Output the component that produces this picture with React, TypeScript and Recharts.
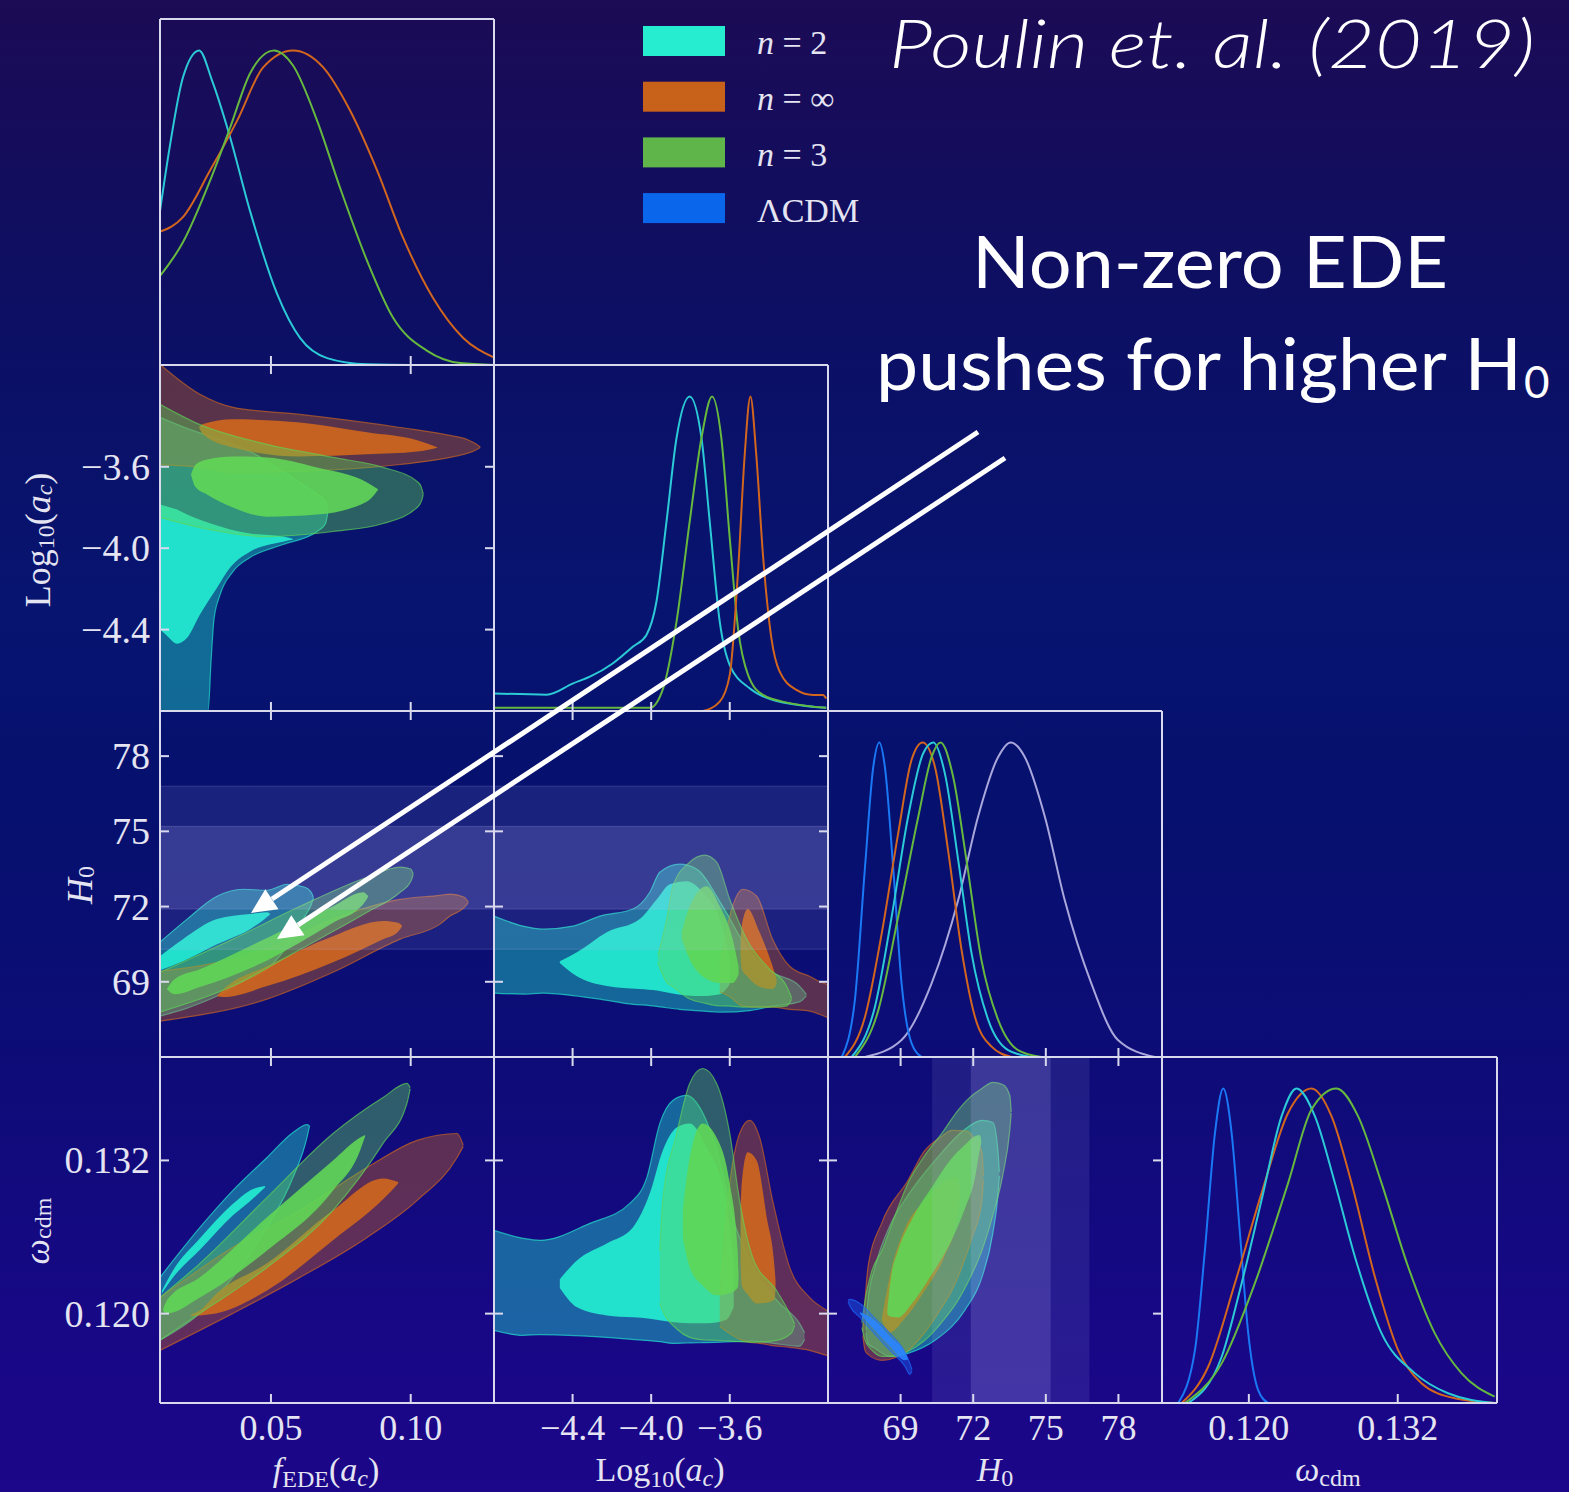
import React from 'react';
import { ComposedChart, Area, Line, XAxis, YAxis } from 'recharts';

type Pt = [number, number];
type Band = [number, number, number];

// ---------- axes ----------
const F_DOMAIN: [number, number] = [0.0103, 0.1298];
const LA_DOMAIN: [number, number] = [-4.8, -3.1];
const H0_DOMAIN: [number, number] = [66.0, 79.8];
const WC_X_DOMAIN: [number, number] = [0.113, 0.14];
const WC_Y_DOMAIN: [number, number] = [0.113, 0.1401];
const PDF_DOMAIN: [number, number] = [0, 1.1];

const F_TICKS = [0.05, 0.1];
const LA_TICKS = [-4.4, -4.0, -3.6];
const H0_TICKS = [69, 72, 75, 78];
const WC_TICKS = [0.12, 0.132];
const PDF_TICKS = [0.5];

// SH0ES local H0 measurement bands
const SH0ES_1SIGMA: Pt = [71.9, 75.2];
const SH0ES_2SIGMA: Pt = [70.3, 76.8];

// ---------- 1D marginals (normalised to peak = 1) ----------
const PDF_F_N2: Pt[] = [[0.0103, 0.49], [0.0139, 0.7], [0.0185, 0.914], [0.0243, 1.0], [0.0289, 0.905], [0.035, 0.736], [0.0425, 0.49], [0.0522, 0.226], [0.0604, 0.086], [0.0701, 0.022], [0.0844, 0.002], [0.1, 0], [0.1298, 0]];
const PDF_F_NINF: Pt[] = [[0.0103, 0.424], [0.0185, 0.47], [0.0282, 0.618], [0.0379, 0.777], [0.0472, 0.946], [0.0579, 1.0], [0.0687, 0.946], [0.0783, 0.809], [0.088, 0.618], [0.0973, 0.404], [0.108, 0.213], [0.1188, 0.086], [0.1295, 0.025]];
const PDF_F_N3: Pt[] = [[0.0103, 0.283], [0.0185, 0.39], [0.0282, 0.586], [0.0354, 0.755], [0.0425, 0.927], [0.0511, 1.0], [0.0579, 0.952], [0.0665, 0.777], [0.0747, 0.564], [0.0844, 0.331], [0.0937, 0.15], [0.1059, 0.045], [0.1177, 0.006], [0.1298, 0]];

const PDF_LA_N2: Pt[] = [[-4.8, 0.056], [-4.532, 0.052], [-4.397, 0.088], [-4.312, 0.109], [-4.194, 0.152], [-4.092, 0.205], [-4.024, 0.242], [-3.973, 0.348], [-3.922, 0.602], [-3.871, 0.868], [-3.804, 1.0], [-3.744, 0.868], [-3.702, 0.602], [-3.651, 0.284], [-3.6, 0.146], [-3.499, 0.072], [-3.38, 0.035], [-3.109, 0.01]];
const PDF_LA_N3: Pt[] = [[-4.8, 0.01], [-4.007, 0.01], [-3.939, 0.072], [-3.871, 0.284], [-3.804, 0.602], [-3.744, 0.868], [-3.69, 1.0], [-3.643, 0.868], [-3.6, 0.549], [-3.558, 0.263], [-3.507, 0.115], [-3.431, 0.051], [-3.295, 0.025], [-3.109, 0.01]];
const PDF_LA_NINF: Pt[] = [[-3.736, 0], [-3.651, 0.03], [-3.6, 0.115], [-3.558, 0.443], [-3.524, 0.814], [-3.495, 1.0], [-3.465, 0.814], [-3.431, 0.496], [-3.388, 0.231], [-3.346, 0.125], [-3.261, 0.067], [-3.177, 0.051], [-3.126, 0.051], [-3.109, 0.04]];

const PDF_H0_LCDM: Pt[] = [[66.57, 0], [67.11, 0.181], [67.53, 0.605], [67.87, 0.922], [68.12, 1.0], [68.35, 0.922], [68.69, 0.605], [69.04, 0.234], [69.45, 0.044], [69.87, 0]];
const PDF_H0_NINF: Pt[] = [[66.7, 0], [67.53, 0.128], [68.22, 0.393], [68.9, 0.711], [69.45, 0.944], [69.91, 1.0], [70.42, 0.922], [70.96, 0.658], [71.52, 0.34], [72.07, 0.128], [72.76, 0.033], [73.58, 0]];
const PDF_H0_N2: Pt[] = [[66.98, 0], [67.94, 0.16], [68.63, 0.446], [69.31, 0.764], [69.93, 0.965], [70.35, 1.0], [70.83, 0.901], [71.38, 0.626], [71.93, 0.33], [72.62, 0.118], [73.44, 0.022], [74.41, 0]];
const PDF_H0_N3: Pt[] = [[67.11, 0], [68.08, 0.149], [68.9, 0.446], [69.73, 0.764], [70.28, 0.954], [70.65, 1.0], [71.17, 0.891], [71.72, 0.626], [72.34, 0.308], [73.03, 0.118], [73.85, 0.022], [74.82, 0]];
const PDF_H0_SH0ES: Pt[] = [[67.53, 0], [69.04, 0.054], [70.28, 0.234], [71.38, 0.499], [72.2, 0.764], [73.03, 0.954], [73.55, 1.0], [74.13, 0.954], [74.96, 0.764], [75.78, 0.499], [76.88, 0.234], [77.98, 0.054], [79.5, 0]];

const PDF_WC_LCDM: Pt[] = [[0.11431, 0], [0.11566, 0.169], [0.11646, 0.487], [0.11727, 0.859], [0.11793, 1.0], [0.11861, 0.859], [0.11928, 0.54], [0.11995, 0.222], [0.12075, 0.041], [0.12156, 0]];
const PDF_WC_N2: Pt[] = [[0.11512, 0], [0.11781, 0.147], [0.11942, 0.381], [0.12103, 0.646], [0.12264, 0.912], [0.12384, 1.0], [0.12532, 0.912], [0.12693, 0.7], [0.12854, 0.466], [0.13069, 0.222], [0.13337, 0.095], [0.13605, 0.031], [0.13981, 0]];
const PDF_WC_NINF: Pt[] = [[0.11459, 0], [0.11673, 0.116], [0.11888, 0.381], [0.12103, 0.668], [0.12317, 0.923], [0.12505, 1.0], [0.12666, 0.912], [0.12827, 0.7], [0.13015, 0.402], [0.13202, 0.169], [0.13391, 0.063], [0.13659, 0.015], [0.13981, 0]];
const PDF_WC_N3: Pt[] = [[0.11485, 0], [0.11781, 0.126], [0.12049, 0.381], [0.12317, 0.7], [0.12505, 0.933], [0.12706, 1.0], [0.1288, 0.912], [0.13069, 0.7], [0.13283, 0.434], [0.13498, 0.222], [0.13713, 0.095], [0.13981, 0.02]];

// ---------- 2D credible regions: [x, lower, upper] ----------
// f_EDE vs log10(a_c)
const C_FLA_N2_OUT: Band[] = [[0.0103, -4.8, -3.357], [0.0275, -4.8, -3.446], [0.0286, -4.548, -3.45], [0.0296, -4.351, -3.456], [0.0318, -4.228, -3.466], [0.0364, -4.115, -3.49], [0.0425, -4.046, -3.525], [0.0543, -3.982, -3.623], [0.0665, -3.918, -3.736], [0.0695, -3.88, -3.77], [0.0704, -3.821, -3.819]];
const C_FLA_N2_IN: Band[] = [[0.0103, -4.4, -3.785], [0.0128, -4.43, -3.795], [0.0164, -4.469, -3.81], [0.02, -4.44, -3.835], [0.0246, -4.326, -3.86], [0.0307, -4.194, -3.889], [0.0354, -4.095, -3.908], [0.0425, -4.017, -3.928], [0.0543, -3.968, -3.943], [0.0579, -3.957, -3.955]];
const C_FLA_NINF_OUT: Band[] = [[0.0103, -3.589, -3.097], [0.0246, -3.603, -3.244], [0.0364, -3.628, -3.308], [0.0604, -3.623, -3.343], [0.0962, -3.589, -3.407], [0.1141, -3.554, -3.446], [0.1202, -3.534, -3.466], [0.123, -3.52, -3.485], [0.1249, -3.505, -3.503]];
const C_FLA_NINF_IN: Band[] = [[0.0243, -3.408, -3.405], [0.0257, -3.44, -3.39], [0.0364, -3.505, -3.367], [0.0604, -3.549, -3.382], [0.0844, -3.539, -3.431], [0.1023, -3.525, -3.47], [0.1095, -3.506, -3.504]];
const C_FLA_N3_OUT: Band[] = [[0.0103, -3.849, -3.293], [0.0246, -3.899, -3.393], [0.0486, -3.943, -3.49], [0.0722, -3.918, -3.554], [0.0901, -3.879, -3.603], [0.1023, -3.8, -3.672], [0.1038, -3.77, -3.7], [0.1045, -3.737, -3.735]];
const C_FLA_N3_IN: Band[] = [[0.0214, -3.639, -3.637], [0.023, -3.7, -3.59], [0.0271, -3.736, -3.564], [0.0364, -3.8, -3.549], [0.0486, -3.845, -3.554], [0.0665, -3.835, -3.603], [0.0844, -3.771, -3.677], [0.0883, -3.713, -3.711]];

// f_EDE vs H0
const C_FH_N2_OUT: Band[] = [[0.0103, 67.63, 70.58], [0.02, 67.95, 71.5], [0.0307, 68.43, 72.41], [0.04, 68.99, 72.69], [0.0486, 69.5, 72.65], [0.0558, 70.42, 72.89], [0.0622, 71.62, 72.77], [0.0645, 72.1, 72.55], [0.0652, 72.34, 72.36]];
const C_FH_N2_IN: Band[] = [[0.0103, 69.46, 70.02], [0.0185, 69.82, 70.7], [0.0307, 70.5, 71.5], [0.0425, 71.1, 71.7], [0.0486, 71.58, 71.77], [0.0497, 71.69, 71.71]];
const C_FH_NINF_OUT: Band[] = [[0.0103, 67.43, 69.42], [0.0486, 68.31, 70.3], [0.0722, 69.38, 71.5], [0.0962, 70.7, 72.29], [0.1105, 71.3, 72.45], [0.1141, 71.62, 72.5], [0.119, 71.95, 72.38], [0.1206, 72.16, 72.18]];
const C_FH_NINF_IN: Band[] = [[0.0307, 68.42, 68.44], [0.033, 68.39, 68.7], [0.0486, 68.83, 69.62], [0.0722, 69.78, 70.82], [0.0901, 70.7, 71.42], [0.0955, 71.0, 71.35], [0.0969, 71.21, 71.23]];
const C_FH_N3_OUT: Band[] = [[0.0103, 67.79, 69.38], [0.0364, 68.83, 70.7], [0.0604, 70.29, 72.01], [0.0844, 71.77, 73.17], [0.0962, 72.57, 73.57], [0.1, 73.0, 73.5], [0.1009, 73.28, 73.3]];
const C_FH_N3_IN: Band[] = [[0.0128, 68.7, 68.72], [0.0155, 68.5, 69.1], [0.0246, 68.79, 69.5], [0.0486, 69.85, 70.75], [0.0722, 71.35, 72.01], [0.083, 72.09, 72.57], [0.0848, 72.4, 72.42]];

// log10(a_c) vs H0
const C_LH_N2_OUT: Band[] = [[-4.8, 68.55, 71.62], [-4.653, 68.51, 71.22], [-4.551, 68.55, 71.1], [-4.398, 68.45, 71.22], [-4.261, 68.31, 71.62], [-4.093, 68.1, 71.9], [-4.007, 68.05, 72.57], [-3.956, 68.0, 73.37], [-3.855, 67.9, 73.69], [-3.768, 67.85, 73.49], [-3.636, 67.79, 72.01], [-3.499, 67.85, 70.18], [-3.382, 68.03, 69.38], [-3.245, 68.2, 68.83], [-3.21, 68.45, 68.5]];
const C_LH_N2_IN: Band[] = [[-4.465, 69.75, 69.82], [-4.378, 69.22, 70.18], [-4.226, 68.83, 70.98], [-4.058, 68.71, 71.5], [-3.971, 68.65, 72.29], [-3.905, 68.55, 72.89], [-3.819, 68.45, 73.01], [-3.738, 68.43, 72.57], [-3.651, 68.5, 71.5], [-3.6, 68.9, 70.0]];
const C_LH_NINF_OUT: Band[] = [[-3.651, 68.59, 69.62], [-3.6, 68.4, 71.62], [-3.534, 68.03, 72.69], [-3.463, 67.99, 72.41], [-3.382, 67.99, 70.7], [-3.295, 67.9, 69.62], [-3.194, 67.83, 69.22], [-3.107, 67.59, 68.91], [-3.1, 67.57, 68.9]];
const C_LH_NINF_IN: Band[] = [[-3.545, 70.0, 70.6], [-3.539, 69.5, 71.22], [-3.509, 69.2, 71.9], [-3.448, 68.8, 70.98], [-3.382, 68.71, 69.62], [-3.362, 68.9, 69.11]];
const C_LH_N3_OUT: Band[] = [[-3.966, 69.75, 70.05], [-3.921, 68.99, 71.5], [-3.89, 68.8, 72.81], [-3.804, 68.31, 73.77], [-3.728, 68.15, 74.05], [-3.667, 68.05, 73.77], [-3.6, 68.03, 72.29], [-3.514, 67.99, 70.7], [-3.397, 67.99, 69.5], [-3.311, 68.03, 68.83], [-3.285, 68.3, 68.35]];
const C_LH_N3_IN: Band[] = [[-3.844, 70.7, 71.0], [-3.804, 69.9, 72.01], [-3.717, 69.11, 72.81], [-3.651, 68.95, 72.01], [-3.585, 68.95, 70.7], [-3.555, 69.3, 69.6]];

// f_EDE vs omega_cdm
const C_FW_N2_OUT: Band[] = [[0.0103, 0.11791, 0.12284], [0.0246, 0.12002, 0.12675], [0.0364, 0.12284, 0.12965], [0.0486, 0.12675, 0.13223], [0.0579, 0.13067, 0.13419], [0.0629, 0.1338, 0.1348], [0.0638, 0.1347, 0.13472]];
const C_FW_N2_IN: Band[] = [[0.011, 0.1216, 0.1218], [0.015, 0.12284, 0.1234], [0.0246, 0.125, 0.1259], [0.0364, 0.1277, 0.1286], [0.0425, 0.1288, 0.12965], [0.0479, 0.1299, 0.13]];
const C_FW_NINF_OUT: Band[] = [[0.0103, 0.11712, 0.12127], [0.0364, 0.12002, 0.12519], [0.0604, 0.12284, 0.12809], [0.0844, 0.12597, 0.13145], [0.1023, 0.12887, 0.13357], [0.1166, 0.13223, 0.13411], [0.1188, 0.1331, 0.1332]];
const C_FW_NINF_IN: Band[] = [[0.0214, 0.1198, 0.1199], [0.0246, 0.11985, 0.12026], [0.0307, 0.12002, 0.1216], [0.0486, 0.12182, 0.12394], [0.0722, 0.12574, 0.12809], [0.0901, 0.12895, 0.13059], [0.0955, 0.1302, 0.1303]];
const C_FW_N3_OUT: Band[] = [[0.0103, 0.11791, 0.12127], [0.0246, 0.12002, 0.12394], [0.0486, 0.12362, 0.1291], [0.0722, 0.12809, 0.13411], [0.0901, 0.13333, 0.13693], [0.0987, 0.1365, 0.13803], [0.0998, 0.1376, 0.1377]];
const C_FW_N3_IN: Band[] = [[0.0114, 0.1202, 0.1203], [0.0128, 0.12002, 0.12104], [0.0246, 0.12127, 0.12284], [0.0486, 0.12495, 0.12754], [0.0722, 0.12965, 0.132], [0.0819, 0.13278, 0.1338], [0.0837, 0.1339, 0.134]];

// log10(a_c) vs omega_cdm
const C_LW_N2_OUT: Band[] = [[-4.8, 0.11869, 0.12652], [-4.653, 0.1183, 0.1259], [-4.566, 0.11836, 0.12574], [-4.312, 0.11822, 0.12707], [-4.109, 0.118, 0.12863], [-4.022, 0.1179, 0.13067], [-3.956, 0.1178, 0.1349], [-3.89, 0.11767, 0.1367], [-3.819, 0.1177, 0.13709], [-3.753, 0.11772, 0.13615], [-3.667, 0.11775, 0.13278], [-3.585, 0.1178, 0.12754], [-3.483, 0.11785, 0.12362], [-3.346, 0.1176, 0.1208], [-3.245, 0.11745, 0.11924], [-3.219, 0.118, 0.1185]];
const C_LW_N2_IN: Band[] = [[-4.465, 0.122, 0.1227], [-4.378, 0.12049, 0.12417], [-4.226, 0.11986, 0.1255], [-4.093, 0.11971, 0.12675], [-4.007, 0.1196, 0.12942], [-3.941, 0.11945, 0.13278], [-3.87, 0.1193, 0.13458], [-3.804, 0.11924, 0.1349], [-3.717, 0.11924, 0.133], [-3.62, 0.1195, 0.129], [-3.58, 0.1205, 0.124]];
const C_LW_NINF_OUT: Band[] = [[-3.651, 0.119, 0.1215], [-3.6, 0.11845, 0.1302], [-3.55, 0.118, 0.13411], [-3.499, 0.11775, 0.13513], [-3.448, 0.11767, 0.1338], [-3.382, 0.1175, 0.12887], [-3.295, 0.11736, 0.12362], [-3.194, 0.11712, 0.12127], [-3.107, 0.11673, 0.12026], [-3.1, 0.1167, 0.1202]];
const C_LW_NINF_IN: Band[] = [[-3.545, 0.124, 0.128], [-3.539, 0.1222, 0.1302], [-3.509, 0.1215, 0.13263], [-3.463, 0.1208, 0.132], [-3.412, 0.12085, 0.12754], [-3.372, 0.1211, 0.12362], [-3.367, 0.122, 0.1226]];
const C_LW_N3_OUT: Band[] = [[-3.956, 0.1208, 0.12495], [-3.941, 0.1202, 0.12887], [-3.87, 0.1188, 0.13411], [-3.804, 0.11814, 0.13803], [-3.738, 0.11795, 0.1392], [-3.667, 0.11791, 0.13803], [-3.6, 0.11785, 0.13411], [-3.55, 0.1178, 0.12887], [-3.483, 0.11775, 0.1244], [-3.362, 0.1179, 0.12182], [-3.285, 0.1185, 0.11971], [-3.27, 0.1191, 0.1192]];
const C_LW_N3_IN: Band[] = [[-3.839, 0.12597, 0.12809], [-3.804, 0.12362, 0.13223], [-3.738, 0.1222, 0.1349], [-3.667, 0.12143, 0.1338], [-3.6, 0.1216, 0.1302], [-3.56, 0.122, 0.12495], [-3.555, 0.1228, 0.123]];

// H0 vs omega_cdm
const C_HW_N2_OUT: Band[] = [[67.57, 0.1185, 0.1187], [67.65, 0.11767, 0.12104], [67.94, 0.11728, 0.12362], [68.56, 0.11665, 0.12691], [69.3, 0.11689, 0.12926], [70.42, 0.11791, 0.132], [71.65, 0.12026, 0.13443], [72.36, 0.12284, 0.13513], [72.81, 0.12628, 0.13497], [73.02, 0.12926, 0.13278], [73.08, 0.1308, 0.1311]];
const C_HW_NINF_OUT: Band[] = [[67.44, 0.1183, 0.1186], [67.53, 0.11712, 0.12104], [67.65, 0.11681, 0.12362], [68.23, 0.11634, 0.12715], [69.3, 0.11712, 0.13043], [70.0, 0.11853, 0.13278], [70.7, 0.12049, 0.13388], [71.12, 0.12182, 0.13435], [71.78, 0.12495, 0.13427], [71.94, 0.12589, 0.13396], [72.36, 0.12887, 0.13263], [72.42, 0.1305, 0.1308]];
const C_HW_NINF_IN: Band[] = [[68.23, 0.11947, 0.1197], [68.56, 0.11853, 0.123], [69.18, 0.11963, 0.12668], [70.0, 0.12182, 0.12887], [70.83, 0.12456, 0.13043], [71.37, 0.12769, 0.13067], [71.45, 0.129, 0.1295]];
const C_HW_N3_OUT: Band[] = [[67.4, 0.1189, 0.1193], [67.53, 0.11791, 0.12104], [67.82, 0.11712, 0.12339], [68.23, 0.11665, 0.12495], [68.77, 0.11665, 0.12769], [69.3, 0.11704, 0.1302], [70.0, 0.11791, 0.13239], [70.7, 0.11932, 0.13411], [71.37, 0.12104, 0.13592], [71.86, 0.12276, 0.13694], [72.36, 0.12495, 0.13764], [72.81, 0.12769, 0.13811], [73.22, 0.13083, 0.13795], [73.51, 0.13435, 0.1371], [73.57, 0.1357, 0.1358]];
const C_HW_N3_IN: Band[] = [[68.45, 0.11995, 0.1203], [68.6, 0.11975, 0.1228], [68.89, 0.1197, 0.1249], [69.47, 0.1208, 0.1274], [70.29, 0.1231, 0.1299], [71.04, 0.1255, 0.132], [71.65, 0.1282, 0.1332], [72.07, 0.1306, 0.1339], [72.27, 0.1328, 0.134], [72.33, 0.1333, 0.1336]];
const C_HW_LCDM_OUT: Band[] = [[66.83, 0.12095, 0.12105], [66.91, 0.12057, 0.12112], [67.32, 0.11971, 0.1208], [67.94, 0.11838, 0.11963], [68.56, 0.11712, 0.11845], [69.18, 0.11587, 0.11697], [69.38, 0.11524, 0.11611], [69.47, 0.1155, 0.1156]];
const C_HW_LCDM_IN: Band[] = [[67.32, 0.12, 0.1201], [67.94, 0.11869, 0.11947], [68.56, 0.11744, 0.11822], [69.18, 0.11634, 0.11697], [69.3, 0.1164, 0.1165]];

// ---------- styling ----------
const CYAN = '#24eed2';
const ORANGE = '#d0671d';
const GREEN = '#60d657';
const BLUE = '#1c6cff';
const CYAN_LINE = '#2ccad6';
const ORANGE_LINE = '#d2661e';
const GREEN_LINE = '#66b83f';
const BLUE_LINE = '#1a78f5';
const SH0ES_LINE = '#a9a7dc';
const BAND_FILL = '#c4c0ff';
const FRAME = '#d9d9ee';
const TEXT = '#e4e4f2';
const SERIF = "'Liberation Serif', 'DejaVu Serif', serif";
const SANS = "Lato, 'Open Sans', 'Liberation Sans', sans-serif";

const COL_X = [160, 494, 828, 1162, 1497];
const ROW_Y = [19, 365, 711, 1057, 1403];
const TICK_LEN = 9;

const fmtF = (v: number) => v.toFixed(2);
const fmtLA = (v: number) => (v < 0 ? '\u2212' : '') + Math.abs(v).toFixed(1);
const fmtH0 = (v: number) => String(v);
const fmtWC = (v: number) => v.toFixed(3);

type Side = 'bottom' | 'top' | 'left' | 'right';

const noTick = () => <g />;

function makeTick(side: Side, fmt?: (v: number) => string) {
  return (props: any) => {
    const { x, y, payload } = props;
    let line: React.ReactNode = null;
    let label: React.ReactNode = null;
    const lp = { stroke: FRAME, strokeWidth: 2 };
    if (side === 'bottom') {
      line = <line x1={x} y1={y} x2={x} y2={y - TICK_LEN} {...lp} />;
      if (fmt)
        label = (
          <text x={x} y={y + 25} textAnchor="middle" dominantBaseline="central" fill={TEXT} fontFamily={SERIF} fontSize={36}>
            {fmt(payload.value)}
          </text>
        );
    } else if (side === 'top') {
      line = <line x1={x} y1={y} x2={x} y2={y + TICK_LEN} {...lp} />;
    } else if (side === 'left') {
      line = <line x1={x} y1={y} x2={x + TICK_LEN} y2={y} {...lp} />;
      if (fmt)
        label = (
          <text x={x - 10} y={y} textAnchor="end" dominantBaseline="central" fill={TEXT} fontFamily={SERIF} fontSize={38}>
            {fmt(payload.value)}
          </text>
        );
    } else {
      line = <line x1={x} y1={y} x2={x - TICK_LEN} y2={y} {...lp} />;
    }
    return (
      <g>
        {line}
        {label}
      </g>
    );
  };
}

const toRange = (rows: Band[]) => rows.map(([x, lo, hi]) => ({ x, r: [lo, hi] }));
const toPdf = (rows: Pt[]) => rows.map(([x, p]) => ({ x, p }));

function region(key: string, rows: Band[], color: string, inner: boolean) {
  return (
    <Area
      key={key}
      xAxisId="b"
      yAxisId="l"
      data={toRange(rows)}
      dataKey="r"
      type="monotone"
      fill={color}
      fillOpacity={inner ? 0.9 : 0.4}
      stroke={inner ? 'none' : color}
      strokeOpacity={0.65}
      strokeWidth={1.2}
      dot={false}
      activeDot={false}
      isAnimationActive={false}
    />
  );
}

function pdf(key: string, rows: Pt[], color: string) {
  return (
    <Line
      key={key}
      xAxisId="b"
      yAxisId="l"
      data={toPdf(rows)}
      dataKey="p"
      type="monotone"
      stroke={color}
      strokeWidth={2}
      dot={false}
      activeDot={false}
      isAnimationActive={false}
    />
  );
}

function hBand(key: string, span: Pt, xDomain: Pt, opacity: number) {
  return (
    <Area
      key={key}
      xAxisId="b"
      yAxisId="l"
      data={[{ x: xDomain[0], r: span }, { x: xDomain[1], r: span }]}
      dataKey="r"
      type="linear"
      fill={BAND_FILL}
      fillOpacity={opacity}
      stroke={BAND_FILL}
      strokeOpacity={0.2}
      strokeWidth={1}
      dot={false}
      activeDot={false}
      isAnimationActive={false}
    />
  );
}

function vBand(key: string, span: Pt, yDomain: Pt, opacity: number) {
  return (
    <Area
      key={key}
      xAxisId="b"
      yAxisId="l"
      data={[{ x: span[0], r: yDomain }, { x: span[1], r: yDomain }]}
      dataKey="r"
      type="linear"
      fill={BAND_FILL}
      fillOpacity={opacity}
      stroke="none"
      dot={false}
      activeDot={false}
      isAnimationActive={false}
    />
  );
}

function triplet(prefix: string, n2: Band[][], ninf: Band[][], n3: Band[][]) {
  const out: React.ReactNode[] = [];
  n2.forEach((r, i) => out.push(region(`${prefix}-n2-${i}`, r, CYAN, i === 1)));
  ninf.forEach((r, i) => out.push(region(`${prefix}-ninf-${i}`, r, ORANGE, i === 1)));
  n3.forEach((r, i) => out.push(region(`${prefix}-n3-${i}`, r, GREEN, i === 1)));
  return out;
}

type PanelProps = {
  col: number;
  row: number;
  xDomain: Pt;
  yDomain: Pt;
  xTicks: number[];
  yTicks?: number[];
  xFmt?: (v: number) => string;
  yFmt?: (v: number) => string;
  children?: React.ReactNode;
};

// Each axis is 1px thick; the margins are trimmed by that pixel so the plot
// rectangle lands exactly on the panel grid.
function Panel({ col, row, xDomain, yDomain, xTicks, yTicks, xFmt, yFmt, children }: PanelProps) {
  const ml = col === 0 ? 150 : 4;
  const mb = row === 3 ? 64 : 4;
  const mt = 4;
  const mr = 4;
  const w = COL_X[col + 1] - COL_X[col];
  const h = ROW_Y[row + 1] - ROW_Y[row];
  const twoD = !!yTicks;
  const axisLine = { stroke: FRAME, strokeWidth: 2 };
  const common = { type: 'number' as const, allowDataOverflow: true, interval: 0 as const, tickSize: 0, tickMargin: 0, tickLine: false, axisLine };
  return (
    <div style={{ position: 'absolute', left: COL_X[col] - ml, top: ROW_Y[row] - mt }}>
      <ComposedChart width={w + ml + mr} height={h + mt + mb} margin={{ top: mt - 1, right: mr - 1, bottom: mb - 1, left: ml - 1 }}>
        <XAxis xAxisId="b" dataKey="x" orientation="bottom" domain={xDomain} ticks={xTicks} height={1} tick={makeTick('bottom', xFmt)} {...common} />
        <XAxis xAxisId="t" dataKey="x" orientation="top" domain={xDomain} ticks={xTicks} height={1} tick={twoD ? makeTick('top') : noTick} {...common} />
        <YAxis yAxisId="l" orientation="left" domain={yDomain} ticks={twoD ? yTicks : PDF_TICKS} width={1} tick={twoD ? makeTick('left', yFmt) : noTick} {...common} />
        <YAxis yAxisId="r" orientation="right" domain={yDomain} ticks={twoD ? yTicks : PDF_TICKS} width={1} tick={twoD ? makeTick('right') : noTick} {...common} />
        {children}
      </ComposedChart>
    </div>
  );
}

const LEGEND = [
  { color: '#26ecd0', label: 'n = 2', italicN: true },
  { color: '#c8621a', label: 'n = \u221e', italicN: true },
  { color: '#5fb54a', label: 'n = 3', italicN: true },
  { color: '#0a66ea', label: '\u039bCDM', italicN: false },
];

function Overlay() {
  const sub = 24;
  return (
    <svg width={1569} height={1492} style={{ position: 'absolute', left: 0, top: 0, pointerEvents: 'none' }}>
      {/* legend */}
      {LEGEND.map((e, i) => (
        <g key={e.label}>
          <rect x={643} y={26 + i * 55.7} width={82} height={30} fill={e.color} />
          <text x={757} y={54 + i * 56} fill={TEXT} fontFamily={SERIF} fontSize={34}>
            {e.italicN ? (
              <>
                <tspan fontStyle="italic">n</tspan>
                <tspan>{e.label.slice(1)}</tspan>
              </>
            ) : (
              e.label
            )}
          </text>
        </g>
      ))}

      {/* title and annotation */}
      <text x={889} y={68} fill="#ffffff" fontFamily={SANS} fontStyle="italic" fontWeight={300} fontSize={68} textLength={646} lengthAdjust="spacingAndGlyphs">
        Poulin et. al. (2019)
      </text>
      <text x={972} y={288} fill="#ffffff" fontFamily={SANS} fontSize={72} textLength={476} lengthAdjust="spacingAndGlyphs">
        Non-zero EDE
      </text>
      <text x={876} y={390} fill="#ffffff" fontFamily={SANS} fontSize={72} textLength={646} lengthAdjust="spacingAndGlyphs">
        pushes for higher H
      </text>
      <text x={1524} y={398} fill="#ffffff" fontFamily={SANS} fontSize={44}>
        0
      </text>

      {/* arrows */}
      <line x1={978} y1={432} x2={272} y2={899} stroke="#ffffff" strokeWidth={5} />
      <polygon points="251,913 278.5,909.2 265.3,889.2" fill="#ffffff" />
      <line x1={1005} y1={458} x2={298} y2={925} stroke="#ffffff" strokeWidth={5} />
      <polygon points="277,939 304.5,935.2 291.3,915.2" fill="#ffffff" />

      {/* bottom axis titles */}
      <text x={326} y={1481} textAnchor="middle" fill={TEXT} fontFamily={SERIF} fontSize={34}>
        <tspan fontStyle="italic">f</tspan>
        <tspan fontSize={sub} dy={6}>EDE</tspan>
        <tspan dy={-6}>(</tspan>
        <tspan fontStyle="italic">a</tspan>
        <tspan fontStyle="italic" fontSize={sub} dy={5}>c</tspan>
        <tspan dy={-5}>)</tspan>
      </text>
      <text x={660} y={1481} textAnchor="middle" fill={TEXT} fontFamily={SERIF} fontSize={34}>
        <tspan>Log</tspan>
        <tspan fontSize={sub} dy={6}>10</tspan>
        <tspan dy={-6}>(</tspan>
        <tspan fontStyle="italic">a</tspan>
        <tspan fontStyle="italic" fontSize={sub} dy={5}>c</tspan>
        <tspan dy={-5}>)</tspan>
      </text>
      <text x={995} y={1481} textAnchor="middle" fill={TEXT} fontFamily={SERIF} fontSize={34}>
        <tspan fontStyle="italic">H</tspan>
        <tspan fontSize={sub} dy={5}>0</tspan>
      </text>
      <text x={1328} y={1481} textAnchor="middle" fill={TEXT} fontFamily={SERIF} fontSize={34}>
        <tspan fontStyle="italic">{'\u03c9'}</tspan>
        <tspan fontSize={sub} dy={5}>cdm</tspan>
      </text>

      {/* left axis titles */}
      <text x={38} y={540} transform="rotate(-90 38 540)" textAnchor="middle" dominantBaseline="central" fill={TEXT} fontFamily={SERIF} fontSize={36}>
        <tspan>Log</tspan>
        <tspan fontSize={sub} dy={8}>10</tspan>
        <tspan dy={-8}>(</tspan>
        <tspan fontStyle="italic">a</tspan>
        <tspan fontStyle="italic" fontSize={sub} dy={6}>c</tspan>
        <tspan dy={-6}>)</tspan>
      </text>
      <text x={80} y={885} transform="rotate(-90 80 885)" textAnchor="middle" dominantBaseline="central" fill={TEXT} fontFamily={SERIF} fontSize={36}>
        <tspan fontStyle="italic">H</tspan>
        <tspan fontSize={sub} dy={6}>0</tspan>
      </text>
      <text x={37} y={1231} transform="rotate(-90 37 1231)" textAnchor="middle" dominantBaseline="central" fill={TEXT} fontFamily={SERIF} fontSize={36}>
        <tspan fontStyle="italic">{'\u03c9'}</tspan>
        <tspan fontSize={sub} dy={6}>cdm</tspan>
      </text>
    </svg>
  );
}

export default function App() {
  return (
    <div
      style={{
        position: 'absolute',
        left: 0,
        top: 0,
        width: 1569,
        height: 1492,
        overflow: 'hidden',
        background: 'linear-gradient(180deg, #1c0b55 0%, #0d0f63 20%, #071470 40%, #06106e 55%, #0e0c78 72%, #170885 88%, #1c0689 100%)',
      }}
    >
      {/* row 0 */}
      <Panel col={0} row={0} xDomain={F_DOMAIN} yDomain={PDF_DOMAIN} xTicks={F_TICKS}>
        {pdf('f-n2', PDF_F_N2, CYAN_LINE)}
        {pdf('f-ninf', PDF_F_NINF, ORANGE_LINE)}
        {pdf('f-n3', PDF_F_N3, GREEN_LINE)}
      </Panel>

      {/* row 1 */}
      <Panel col={0} row={1} xDomain={F_DOMAIN} yDomain={LA_DOMAIN} xTicks={F_TICKS} yTicks={LA_TICKS} yFmt={fmtLA}>
        {triplet('fla', [C_FLA_N2_OUT, C_FLA_N2_IN], [C_FLA_NINF_OUT, C_FLA_NINF_IN], [C_FLA_N3_OUT, C_FLA_N3_IN])}
      </Panel>
      <Panel col={1} row={1} xDomain={LA_DOMAIN} yDomain={PDF_DOMAIN} xTicks={LA_TICKS}>
        {pdf('la-n2', PDF_LA_N2, CYAN_LINE)}
        {pdf('la-n3', PDF_LA_N3, GREEN_LINE)}
        {pdf('la-ninf', PDF_LA_NINF, ORANGE_LINE)}
      </Panel>

      {/* row 2 */}
      <Panel col={0} row={2} xDomain={F_DOMAIN} yDomain={H0_DOMAIN} xTicks={F_TICKS} yTicks={H0_TICKS} yFmt={fmtH0}>
        {triplet('fh', [C_FH_N2_OUT, C_FH_N2_IN], [C_FH_NINF_OUT, C_FH_NINF_IN], [C_FH_N3_OUT, C_FH_N3_IN])}
        {hBand('fh-2s', SH0ES_2SIGMA, F_DOMAIN, 0.1)}
        {hBand('fh-1s', SH0ES_1SIGMA, F_DOMAIN, 0.17)}
      </Panel>
      <Panel col={1} row={2} xDomain={LA_DOMAIN} yDomain={H0_DOMAIN} xTicks={LA_TICKS} yTicks={H0_TICKS}>
        {triplet('lh', [C_LH_N2_OUT, C_LH_N2_IN], [C_LH_NINF_OUT, C_LH_NINF_IN], [C_LH_N3_OUT, C_LH_N3_IN])}
        {hBand('lh-2s', SH0ES_2SIGMA, LA_DOMAIN, 0.1)}
        {hBand('lh-1s', SH0ES_1SIGMA, LA_DOMAIN, 0.17)}
      </Panel>
      <Panel col={2} row={2} xDomain={H0_DOMAIN} yDomain={PDF_DOMAIN} xTicks={H0_TICKS}>
        {pdf('h-sh0es', PDF_H0_SH0ES, SH0ES_LINE)}
        {pdf('h-lcdm', PDF_H0_LCDM, BLUE_LINE)}
        {pdf('h-ninf', PDF_H0_NINF, ORANGE_LINE)}
        {pdf('h-n2', PDF_H0_N2, CYAN_LINE)}
        {pdf('h-n3', PDF_H0_N3, GREEN_LINE)}
      </Panel>

      {/* row 3 */}
      <Panel col={0} row={3} xDomain={F_DOMAIN} yDomain={WC_Y_DOMAIN} xTicks={F_TICKS} yTicks={WC_TICKS} xFmt={fmtF} yFmt={fmtWC}>
        {triplet('fw', [C_FW_N2_OUT, C_FW_N2_IN], [C_FW_NINF_OUT, C_FW_NINF_IN], [C_FW_N3_OUT, C_FW_N3_IN])}
      </Panel>
      <Panel col={1} row={3} xDomain={LA_DOMAIN} yDomain={WC_Y_DOMAIN} xTicks={LA_TICKS} yTicks={WC_TICKS} xFmt={fmtLA}>
        {triplet('lw', [C_LW_N2_OUT, C_LW_N2_IN], [C_LW_NINF_OUT, C_LW_NINF_IN], [C_LW_N3_OUT, C_LW_N3_IN])}
      </Panel>
      <Panel col={2} row={3} xDomain={H0_DOMAIN} yDomain={WC_Y_DOMAIN} xTicks={H0_TICKS} yTicks={WC_TICKS} xFmt={fmtH0}>
        {triplet('hw', [C_HW_N2_OUT], [C_HW_NINF_OUT, C_HW_NINF_IN], [C_HW_N3_OUT, C_HW_N3_IN])}
        {region('hw-lcdm-0', C_HW_LCDM_OUT, BLUE, false)}
        {region('hw-lcdm-1', C_HW_LCDM_IN, '#2a84ff', true)}
        {vBand('hw-2s', SH0ES_2SIGMA, WC_Y_DOMAIN, 0.1)}
        {vBand('hw-1s', SH0ES_1SIGMA, WC_Y_DOMAIN, 0.17)}
      </Panel>
      <Panel col={3} row={3} xDomain={WC_X_DOMAIN} yDomain={PDF_DOMAIN} xTicks={WC_TICKS} xFmt={fmtWC}>
        {pdf('w-lcdm', PDF_WC_LCDM, BLUE_LINE)}
        {pdf('w-ninf', PDF_WC_NINF, ORANGE_LINE)}
        {pdf('w-n2', PDF_WC_N2, CYAN_LINE)}
        {pdf('w-n3', PDF_WC_N3, GREEN_LINE)}
      </Panel>

      <Overlay />
    </div>
  );
}
